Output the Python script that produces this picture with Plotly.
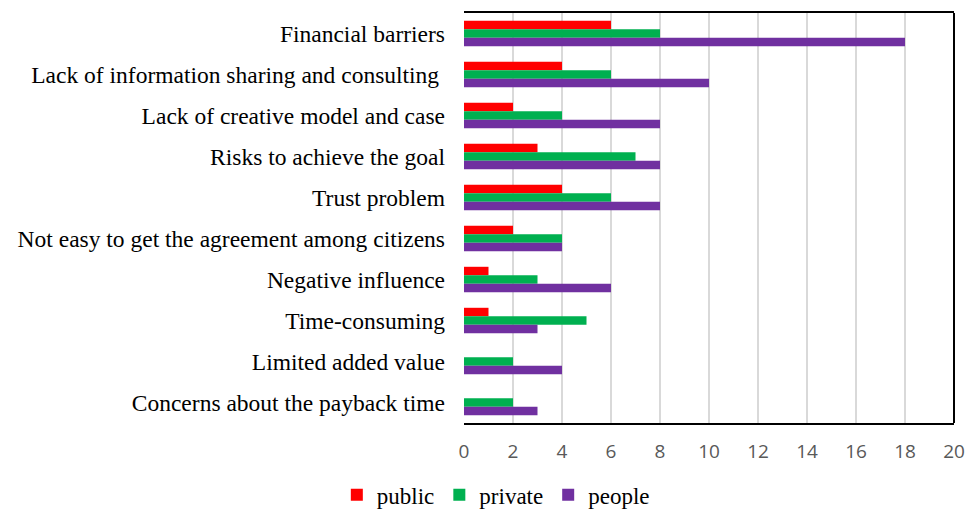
import plotly.graph_objects as go

categories = ["Financial barriers", "Lack of information sharing and consulting ",
              "Lack of creative model and case", "Risks to achieve the goal",
              "Trust problem", "Not easy to get the agreement among citizens",
              "Negative influence", "Time-consuming", "Limited added value",
              "Concerns about the payback time"]
public = [6, 4, 2, 3, 4, 2, 1, 1, 0, 0]
private = [8, 6, 4, 7, 6, 4, 3, 5, 2, 2]
people = [18, 10, 8, 8, 8, 4, 6, 3, 4, 3]
tick_vals = [0, 2, 4, 6, 8, 10, 12, 14, 16, 18, 20]

fig = go.Figure()
for name, vals, col in [("public", public, "#FF0000"),
                        ("private", private, "#00B050"),
                        ("people", people, "#7030A0")]:
    fig.add_trace(go.Bar(y=categories, x=vals, name=name, orientation="h",
                         marker=dict(color=col, line=dict(width=0))))

fig.add_shape(type="line", xref="paper", yref="paper", x0=1, x1=1, y0=0, y1=1,
              line=dict(color="black", width=2))

fig.update_layout(
    width=966, height=501,
    margin=dict(l=456, r=20, t=5, b=86, autoexpand=False),
    barmode="group", bargap=0.38, bargroupgap=0,
    plot_bgcolor="white", paper_bgcolor="white",
    showlegend=True,
    legend=dict(orientation="h", xref="container", x=0.505, xanchor="center",
                y=-0.175, yanchor="middle",
                font=dict(family="Liberation Serif", size=23, color="black"),
                itemwidth=30, traceorder="normal", tracegroupgap=0),
    xaxis=dict(range=[0, 20], tickvals=tick_vals, showgrid=True,
               gridcolor="#D9D9D9", gridwidth=2,
               showline=True, linecolor="black", linewidth=2, mirror=True,
               ticks="", ticklabelstandoff=10,
               tickfont=dict(family="Open Sans", size=19, color="#595959"),
               zeroline=False),
    yaxis=dict(autorange="reversed", showline=False, ticks="",
               ticklabelstandoff=18,
               tickfont=dict(family="Liberation Serif", size=23.5, color="black")),
)
fig.write_html("out.html")
